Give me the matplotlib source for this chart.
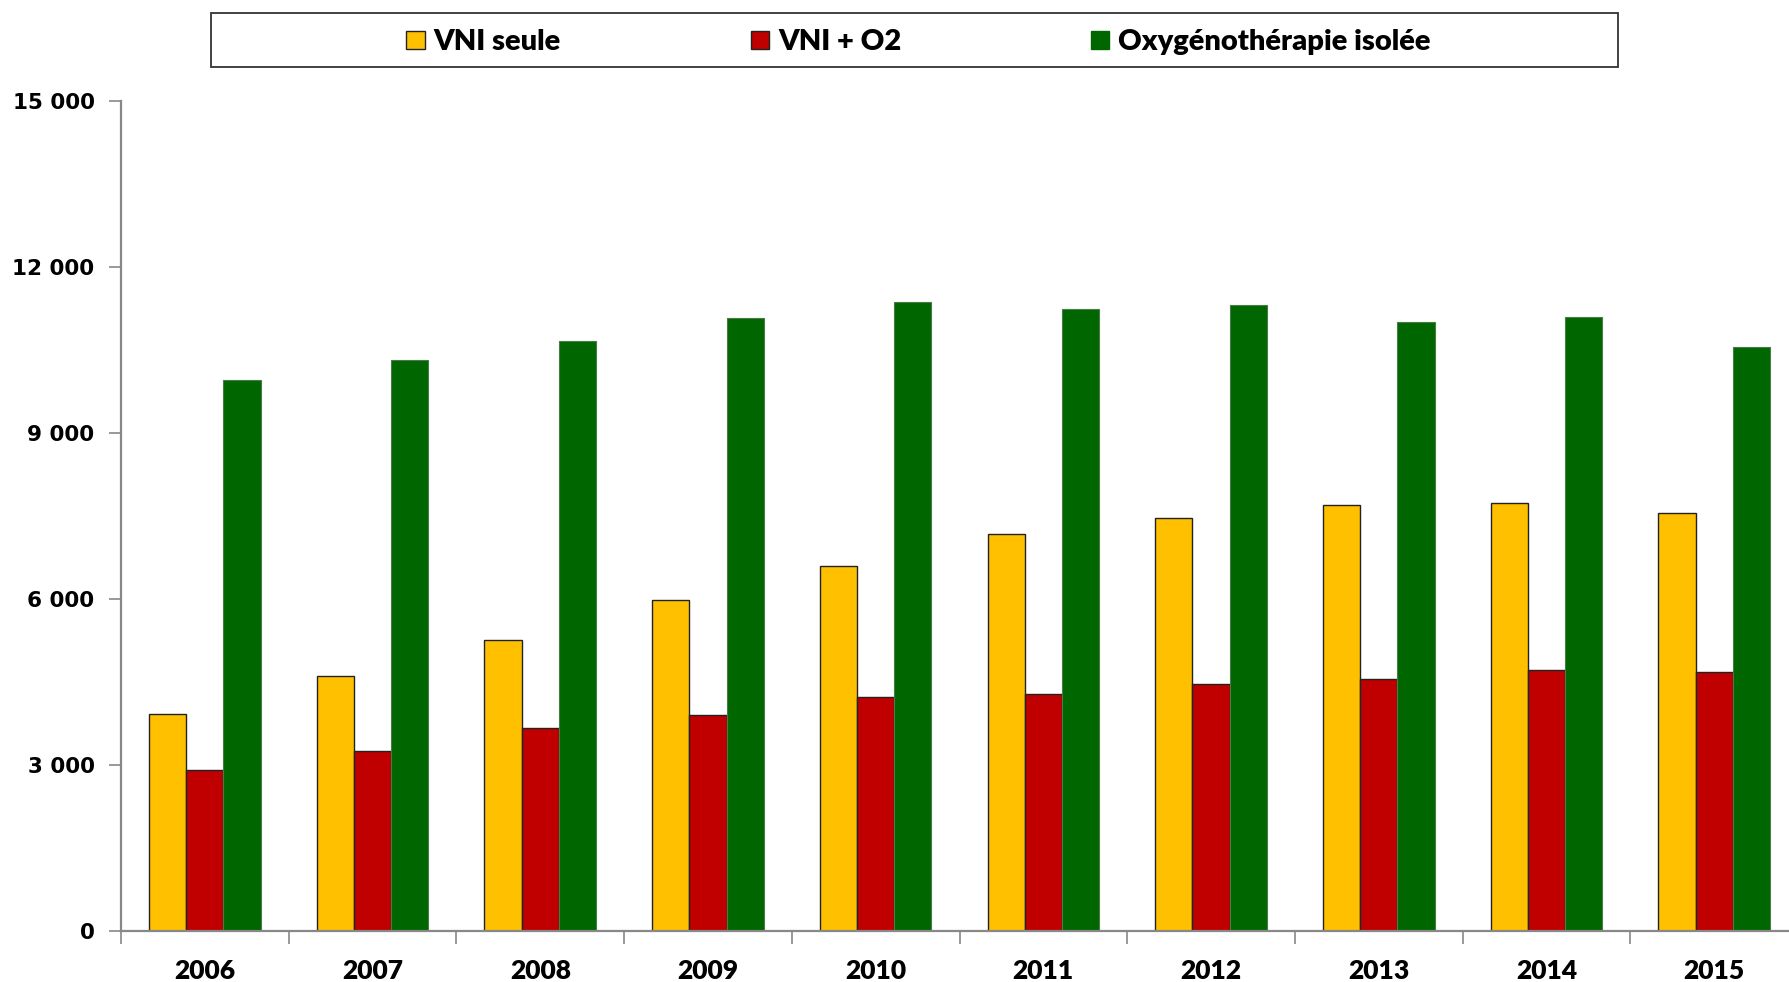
import numpy as np
import matplotlib
matplotlib.use("Agg")
import matplotlib.pyplot as plt
from matplotlib.patches import Patch, Rectangle

years = ['2006', '2007', '2008', '2009', '2010', '2011', '2012', '2013', '2014', '2015']
vni_seule = [3920, 4600, 5260, 5980, 6600, 7180, 7470, 7690, 7740, 7550]
vni_o2 = [2910, 3260, 3670, 3900, 4230, 4290, 4460, 4560, 4720, 4680]
oxygeno = [9960, 10320, 10670, 11080, 11370, 11240, 11310, 11000, 11100, 10560]
series_names = ['VNI seule', 'VNI + O2', 'Oxygénothérapie isolée']
yticks = [0, 3000, 6000, 9000, 12000, 15000]

c_yellow = '#FFC000'
c_red = '#C00000'
c_green = '#006600'
label_font = ['Lato', 'DejaVu Sans']

fig = plt.figure(figsize=(17.89, 9.82), dpi=100)
ax = fig.add_axes([121 / 1789, 51 / 982, 1677 / 1789, 830 / 982])

x = np.arange(len(years))
w = 0.222
ax.bar(x - w, vni_seule, w, color=c_yellow, edgecolor='#222222', linewidth=1.0)
ax.bar(x, vni_o2, w, color=c_red, edgecolor='#222222', linewidth=1.0)
ax.bar(x + w, oxygeno, w, color=c_green, edgecolor='#4a7a4a', linewidth=0.8)

ax.set_xlim(-0.5, len(years) - 0.5)
ax.set_ylim(0, 15000)

for s in ['top', 'right']:
    ax.spines[s].set_visible(False)
for s in ['left', 'bottom']:
    ax.spines[s].set_color('#888888')
    ax.spines[s].set_linewidth(1.6)

ax.set_yticks(yticks)
ax.set_yticklabels([f"{v:,}".replace(',', ' ') for v in yticks],
                   fontfamily='DejaVu Sans', fontweight='bold', fontsize=15.5)
ax.tick_params(axis='y', direction='out', length=9, width=1.2, color='#888888', pad=10)

ax.set_xticks(np.arange(len(years) + 1) - 0.5)
ax.set_xticklabels([])
ax.tick_params(axis='x', which='major', direction='out', length=9, width=1.2, color='#888888')
ax.set_xticks(x, minor=True)
ax.set_xticklabels(years, minor=True, fontfamily=label_font, fontweight='heavy', fontsize=19)
ax.tick_params(axis='x', which='minor', length=0, pad=20)

# legend box
fig.patches.append(Rectangle((211 / 1789, 1 - 67 / 982), 1407 / 1789, 54.5 / 982,
                             transform=fig.transFigure, facecolor='white',
                             edgecolor='#333333', linewidth=1.3))
handles = [Patch(facecolor=c_yellow, edgecolor='#222222'),
           Patch(facecolor=c_red, edgecolor='#222222'),
           Patch(facecolor=c_green, edgecolor=c_green)]
fig.legend(handles, series_names, loc='center', bbox_to_anchor=(0.5135, 0.957),
           ncol=3, frameon=False, handlelength=0.62, handleheight=0.62,
           handletextpad=0.32, columnspacing=6.5,
           prop={'family': label_font, 'weight': 'heavy', 'size': 21})

fig.savefig('out.png', dpi=100)
